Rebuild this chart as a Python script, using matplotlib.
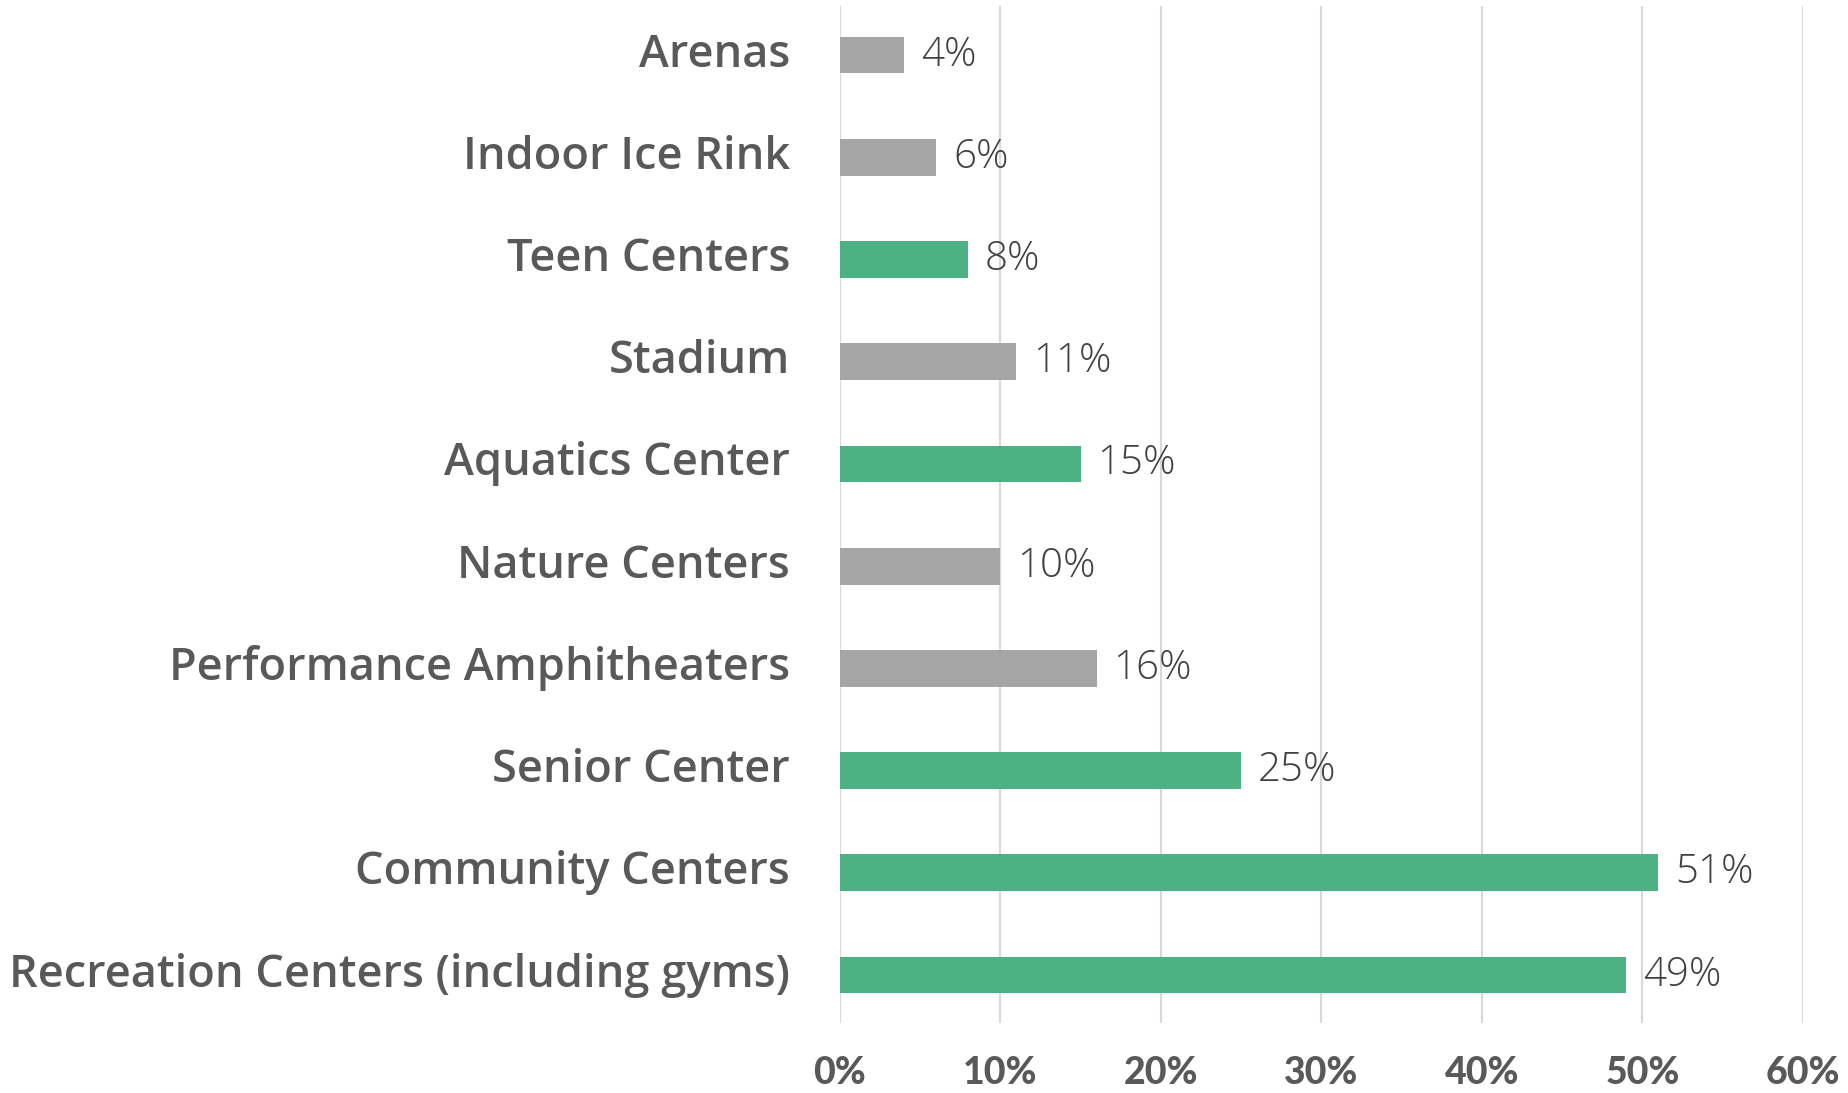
import matplotlib
matplotlib.use('Agg')
import matplotlib.pyplot as plt
from matplotlib.ticker import PercentFormatter

# data, bottom to top
categories = ['Recreation Centers (including gyms)', 'Community Centers', 'Senior Center',
              'Performance Amphitheaters', 'Nature Centers', 'Aquatics Center',
              'Stadium', 'Teen Centers', 'Indoor Ice Rink', 'Arenas']
values = [49, 51, 25, 16, 10, 15, 11, 8, 6, 4]
highlight = [True, True, True, False, False, True, False, True, False, False]

green = '#4CB284'
gray = '#A5A5A5'
colors = [green if h else gray for h in highlight]

fig = plt.figure(figsize=(18.48, 10.93), dpi=100)
ax = fig.add_axes([0.4545, 0.064, 0.5211, 0.9305])

y = list(range(len(categories)))
ax.barh(y, [v / 100 for v in values], height=0.36, color=colors, zorder=3)

for yi, v in zip(y, values):
    ax.annotate(f'{v}%', (v / 100, yi), xytext=(12, 0), textcoords='offset points',
                va='center', ha='left', fontsize=29, family='Open Sans', weight='light',
                color='#404040')

ax.set_xlim(0, 0.6)
ax.set_ylim(-0.47, 9.48)
ax.set_xticks([i / 10 for i in range(7)])
ax.xaxis.set_major_formatter(PercentFormatter(1.0, decimals=0))
ax.set_yticks(y)
ax.set_yticklabels(categories, family='Open Sans', weight='semibold', fontsize=32.5,
                   color='#595959', va='center')
for lab in ax.get_xticklabels():
    lab.set_family('Lato')
    lab.set_weight('black')
    lab.set_fontsize(27)
    lab.set_color('#595959')

ax.tick_params(axis='y', length=0, pad=36)
ax.tick_params(axis='x', length=0, pad=24)
ax.grid(axis='x', color='#D9D9D9', linewidth=1.5, zorder=0)
for s in ax.spines.values():
    s.set_visible(False)

plt.savefig('out.png', dpi=100)
